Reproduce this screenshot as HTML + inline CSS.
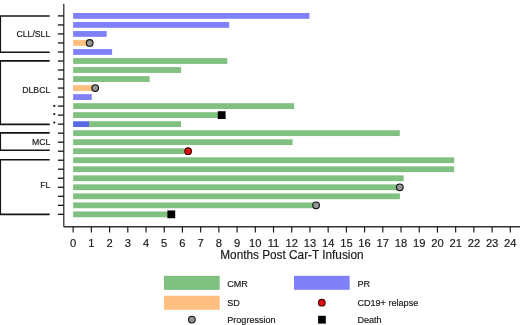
<!DOCTYPE html>
<html><head><meta charset="utf-8"><style>
html,body{margin:0;padding:0;background:#fff;}
svg{display:block;will-change:transform;}
body,svg text{font-family:"Liberation Sans",sans-serif;}
</style></head><body>
<svg width="520" height="325" viewBox="0 0 520 325">
<rect width="520" height="325" fill="#fff"/>
<rect x="73.15" y="13.00" width="236.25" height="5.8" fill="#8080f8"/>
<rect x="73.15" y="22.02" width="156.05" height="5.8" fill="#8080f8"/>
<rect x="73.15" y="31.04" width="33.55" height="5.8" fill="#8080f8"/>
<rect x="73.15" y="40.06" width="16.55" height="5.8" fill="#ffbf80"/>
<rect x="73.15" y="49.08" width="38.95" height="5.8" fill="#8080f8"/>
<rect x="73.15" y="58.10" width="154.15" height="5.8" fill="#80c080"/>
<rect x="73.15" y="67.12" width="107.95" height="5.8" fill="#80c080"/>
<rect x="73.15" y="76.14" width="76.55" height="5.8" fill="#80c080"/>
<rect x="73.15" y="85.16" width="22.05" height="5.8" fill="#ffbf80"/>
<rect x="73.15" y="94.18" width="18.65" height="5.8" fill="#8080f8"/>
<rect x="73.15" y="103.20" width="221.05" height="5.8" fill="#80c080"/>
<rect x="73.15" y="112.22" width="148.55" height="5.8" fill="#80c080"/>
<rect x="73.15" y="121.24" width="15.85" height="5.8" fill="#5868e0"/>
<rect x="89.00" y="121.24" width="92.00" height="5.8" fill="#80c080"/>
<rect x="73.15" y="130.26" width="326.65" height="5.8" fill="#80c080"/>
<rect x="73.15" y="139.28" width="219.45" height="5.8" fill="#80c080"/>
<rect x="73.15" y="148.30" width="111.45" height="5.8" fill="#80c080"/>
<rect x="73.15" y="157.32" width="381.05" height="5.8" fill="#80c080"/>
<rect x="73.15" y="166.34" width="381.05" height="5.8" fill="#80c080"/>
<rect x="73.15" y="175.36" width="330.55" height="5.8" fill="#80c080"/>
<rect x="73.15" y="184.38" width="326.65" height="5.8" fill="#80c080"/>
<rect x="73.15" y="193.40" width="326.75" height="5.8" fill="#80c080"/>
<rect x="73.15" y="202.42" width="242.95" height="5.8" fill="#80c080"/>
<rect x="73.15" y="211.44" width="98.15" height="5.8" fill="#80c080"/>
<circle cx="89.7" cy="42.96" r="3.35" fill="#959595" stroke="#111" stroke-width="1.1"/>
<circle cx="95.2" cy="88.06" r="3.35" fill="#959595" stroke="#111" stroke-width="1.1"/>
<circle cx="399.8" cy="187.28" r="3.35" fill="#959595" stroke="#111" stroke-width="1.1"/>
<circle cx="316.1" cy="205.32" r="3.35" fill="#959595" stroke="#111" stroke-width="1.1"/>
<circle cx="188.1" cy="151.20" r="3.35" fill="#e01010" stroke="#400" stroke-width="1.1"/>
<rect x="217.80" y="111.22" width="7.8" height="7.8" fill="#000"/>
<rect x="167.40" y="210.44" width="7.8" height="7.8" fill="#000"/>
<path d="M63.8 3.7 V226.7" stroke="#1a1a1a" stroke-width="1.15" fill="none"/>
<path d="M63.8 226.7 H520" stroke="#333" stroke-width="1.5" fill="none"/>
<line x1="57.9" y1="15.90" x2="63.8" y2="15.90" stroke="#151515" stroke-width="1.3"/>
<line x1="57.9" y1="24.92" x2="63.8" y2="24.92" stroke="#151515" stroke-width="1.3"/>
<line x1="57.9" y1="33.94" x2="63.8" y2="33.94" stroke="#151515" stroke-width="1.3"/>
<line x1="57.9" y1="42.96" x2="63.8" y2="42.96" stroke="#151515" stroke-width="1.3"/>
<line x1="57.9" y1="51.98" x2="63.8" y2="51.98" stroke="#151515" stroke-width="1.3"/>
<line x1="57.9" y1="61.00" x2="63.8" y2="61.00" stroke="#151515" stroke-width="1.3"/>
<line x1="57.9" y1="70.02" x2="63.8" y2="70.02" stroke="#151515" stroke-width="1.3"/>
<line x1="57.9" y1="79.04" x2="63.8" y2="79.04" stroke="#151515" stroke-width="1.3"/>
<line x1="57.9" y1="88.06" x2="63.8" y2="88.06" stroke="#151515" stroke-width="1.3"/>
<line x1="57.9" y1="97.08" x2="63.8" y2="97.08" stroke="#151515" stroke-width="1.3"/>
<line x1="57.9" y1="106.10" x2="63.8" y2="106.10" stroke="#151515" stroke-width="1.3"/>
<line x1="57.9" y1="115.12" x2="63.8" y2="115.12" stroke="#151515" stroke-width="1.3"/>
<line x1="57.9" y1="124.14" x2="63.8" y2="124.14" stroke="#151515" stroke-width="1.3"/>
<line x1="57.9" y1="133.16" x2="63.8" y2="133.16" stroke="#151515" stroke-width="1.3"/>
<line x1="57.9" y1="142.18" x2="63.8" y2="142.18" stroke="#151515" stroke-width="1.3"/>
<line x1="57.9" y1="151.20" x2="63.8" y2="151.20" stroke="#151515" stroke-width="1.3"/>
<line x1="57.9" y1="160.22" x2="63.8" y2="160.22" stroke="#151515" stroke-width="1.3"/>
<line x1="57.9" y1="169.24" x2="63.8" y2="169.24" stroke="#151515" stroke-width="1.3"/>
<line x1="57.9" y1="178.26" x2="63.8" y2="178.26" stroke="#151515" stroke-width="1.3"/>
<line x1="57.9" y1="187.28" x2="63.8" y2="187.28" stroke="#151515" stroke-width="1.3"/>
<line x1="57.9" y1="196.30" x2="63.8" y2="196.30" stroke="#151515" stroke-width="1.3"/>
<line x1="57.9" y1="205.32" x2="63.8" y2="205.32" stroke="#151515" stroke-width="1.3"/>
<line x1="57.9" y1="214.34" x2="63.8" y2="214.34" stroke="#151515" stroke-width="1.3"/>
<circle cx="54.3" cy="105.9" r="1.15" fill="#222"/>
<circle cx="54.3" cy="114.1" r="1.15" fill="#222"/>
<circle cx="54.3" cy="122.6" r="1.15" fill="#222"/>
<line x1="73.15" y1="226.7" x2="73.15" y2="232.6" stroke="#151515" stroke-width="1.15"/>
<text transform="translate(73.15,246.50) scale(1,1.03)" font-size="11.2" text-anchor="middle" fill="#1a1a1a" stroke="#1a1a1a" stroke-width="0.18" stroke-linejoin="round">0</text>
<line x1="91.37" y1="226.7" x2="91.37" y2="232.6" stroke="#151515" stroke-width="1.15"/>
<text transform="translate(91.37,246.50) scale(1,1.03)" font-size="11.2" text-anchor="middle" fill="#1a1a1a" stroke="#1a1a1a" stroke-width="0.18" stroke-linejoin="round">1</text>
<line x1="109.58" y1="226.7" x2="109.58" y2="232.6" stroke="#151515" stroke-width="1.15"/>
<text transform="translate(109.58,246.50) scale(1,1.03)" font-size="11.2" text-anchor="middle" fill="#1a1a1a" stroke="#1a1a1a" stroke-width="0.18" stroke-linejoin="round">2</text>
<line x1="127.80" y1="226.7" x2="127.80" y2="232.6" stroke="#151515" stroke-width="1.15"/>
<text transform="translate(127.80,246.50) scale(1,1.03)" font-size="11.2" text-anchor="middle" fill="#1a1a1a" stroke="#1a1a1a" stroke-width="0.18" stroke-linejoin="round">3</text>
<line x1="146.01" y1="226.7" x2="146.01" y2="232.6" stroke="#151515" stroke-width="1.15"/>
<text transform="translate(146.01,246.50) scale(1,1.03)" font-size="11.2" text-anchor="middle" fill="#1a1a1a" stroke="#1a1a1a" stroke-width="0.18" stroke-linejoin="round">4</text>
<line x1="164.23" y1="226.7" x2="164.23" y2="232.6" stroke="#151515" stroke-width="1.15"/>
<text transform="translate(164.23,246.50) scale(1,1.03)" font-size="11.2" text-anchor="middle" fill="#1a1a1a" stroke="#1a1a1a" stroke-width="0.18" stroke-linejoin="round">5</text>
<line x1="182.44" y1="226.7" x2="182.44" y2="232.6" stroke="#151515" stroke-width="1.15"/>
<text transform="translate(182.44,246.50) scale(1,1.03)" font-size="11.2" text-anchor="middle" fill="#1a1a1a" stroke="#1a1a1a" stroke-width="0.18" stroke-linejoin="round">6</text>
<line x1="200.66" y1="226.7" x2="200.66" y2="232.6" stroke="#151515" stroke-width="1.15"/>
<text transform="translate(200.66,246.50) scale(1,1.03)" font-size="11.2" text-anchor="middle" fill="#1a1a1a" stroke="#1a1a1a" stroke-width="0.18" stroke-linejoin="round">7</text>
<line x1="218.87" y1="226.7" x2="218.87" y2="232.6" stroke="#151515" stroke-width="1.15"/>
<text transform="translate(218.87,246.50) scale(1,1.03)" font-size="11.2" text-anchor="middle" fill="#1a1a1a" stroke="#1a1a1a" stroke-width="0.18" stroke-linejoin="round">8</text>
<line x1="237.09" y1="226.7" x2="237.09" y2="232.6" stroke="#151515" stroke-width="1.15"/>
<text transform="translate(237.09,246.50) scale(1,1.03)" font-size="11.2" text-anchor="middle" fill="#1a1a1a" stroke="#1a1a1a" stroke-width="0.18" stroke-linejoin="round">9</text>
<line x1="255.30" y1="226.7" x2="255.30" y2="232.6" stroke="#151515" stroke-width="1.15"/>
<text transform="translate(255.30,246.50) scale(1,1.03)" font-size="11.2" text-anchor="middle" fill="#1a1a1a" stroke="#1a1a1a" stroke-width="0.18" stroke-linejoin="round">10</text>
<line x1="273.51" y1="226.7" x2="273.51" y2="232.6" stroke="#151515" stroke-width="1.15"/>
<text transform="translate(273.51,246.50) scale(1,1.03)" font-size="11.2" text-anchor="middle" fill="#1a1a1a" stroke="#1a1a1a" stroke-width="0.18" stroke-linejoin="round">11</text>
<line x1="291.73" y1="226.7" x2="291.73" y2="232.6" stroke="#151515" stroke-width="1.15"/>
<text transform="translate(291.73,246.50) scale(1,1.03)" font-size="11.2" text-anchor="middle" fill="#1a1a1a" stroke="#1a1a1a" stroke-width="0.18" stroke-linejoin="round">12</text>
<line x1="309.94" y1="226.7" x2="309.94" y2="232.6" stroke="#151515" stroke-width="1.15"/>
<text transform="translate(309.94,246.50) scale(1,1.03)" font-size="11.2" text-anchor="middle" fill="#1a1a1a" stroke="#1a1a1a" stroke-width="0.18" stroke-linejoin="round">13</text>
<line x1="328.16" y1="226.7" x2="328.16" y2="232.6" stroke="#151515" stroke-width="1.15"/>
<text transform="translate(328.16,246.50) scale(1,1.03)" font-size="11.2" text-anchor="middle" fill="#1a1a1a" stroke="#1a1a1a" stroke-width="0.18" stroke-linejoin="round">14</text>
<line x1="346.38" y1="226.7" x2="346.38" y2="232.6" stroke="#151515" stroke-width="1.15"/>
<text transform="translate(346.38,246.50) scale(1,1.03)" font-size="11.2" text-anchor="middle" fill="#1a1a1a" stroke="#1a1a1a" stroke-width="0.18" stroke-linejoin="round">15</text>
<line x1="364.59" y1="226.7" x2="364.59" y2="232.6" stroke="#151515" stroke-width="1.15"/>
<text transform="translate(364.59,246.50) scale(1,1.03)" font-size="11.2" text-anchor="middle" fill="#1a1a1a" stroke="#1a1a1a" stroke-width="0.18" stroke-linejoin="round">16</text>
<line x1="382.80" y1="226.7" x2="382.80" y2="232.6" stroke="#151515" stroke-width="1.15"/>
<text transform="translate(382.80,246.50) scale(1,1.03)" font-size="11.2" text-anchor="middle" fill="#1a1a1a" stroke="#1a1a1a" stroke-width="0.18" stroke-linejoin="round">17</text>
<line x1="401.02" y1="226.7" x2="401.02" y2="232.6" stroke="#151515" stroke-width="1.15"/>
<text transform="translate(401.02,246.50) scale(1,1.03)" font-size="11.2" text-anchor="middle" fill="#1a1a1a" stroke="#1a1a1a" stroke-width="0.18" stroke-linejoin="round">18</text>
<line x1="419.24" y1="226.7" x2="419.24" y2="232.6" stroke="#151515" stroke-width="1.15"/>
<text transform="translate(419.24,246.50) scale(1,1.03)" font-size="11.2" text-anchor="middle" fill="#1a1a1a" stroke="#1a1a1a" stroke-width="0.18" stroke-linejoin="round">19</text>
<line x1="437.45" y1="226.7" x2="437.45" y2="232.6" stroke="#151515" stroke-width="1.15"/>
<text transform="translate(437.45,246.50) scale(1,1.03)" font-size="11.2" text-anchor="middle" fill="#1a1a1a" stroke="#1a1a1a" stroke-width="0.18" stroke-linejoin="round">20</text>
<line x1="455.66" y1="226.7" x2="455.66" y2="232.6" stroke="#151515" stroke-width="1.15"/>
<text transform="translate(455.66,246.50) scale(1,1.03)" font-size="11.2" text-anchor="middle" fill="#1a1a1a" stroke="#1a1a1a" stroke-width="0.18" stroke-linejoin="round">21</text>
<line x1="473.88" y1="226.7" x2="473.88" y2="232.6" stroke="#151515" stroke-width="1.15"/>
<text transform="translate(473.88,246.50) scale(1,1.03)" font-size="11.2" text-anchor="middle" fill="#1a1a1a" stroke="#1a1a1a" stroke-width="0.18" stroke-linejoin="round">22</text>
<line x1="492.10" y1="226.7" x2="492.10" y2="232.6" stroke="#151515" stroke-width="1.15"/>
<text transform="translate(492.10,246.50) scale(1,1.03)" font-size="11.2" text-anchor="middle" fill="#1a1a1a" stroke="#1a1a1a" stroke-width="0.18" stroke-linejoin="round">23</text>
<line x1="510.31" y1="226.7" x2="510.31" y2="232.6" stroke="#151515" stroke-width="1.15"/>
<text transform="translate(510.31,246.50) scale(1,1.03)" font-size="11.2" text-anchor="middle" fill="#1a1a1a" stroke="#1a1a1a" stroke-width="0.18" stroke-linejoin="round">24</text>
<text transform="translate(291.90,258.60) scale(1,1.03)" font-size="11.8" text-anchor="middle" fill="#1a1a1a" stroke="#1a1a1a" stroke-width="0.18" stroke-linejoin="round">Months Post Car-T Infusion</text>
<path d="M49.7 16.0 H0 M49.7 52.3 H0" stroke="#151515" stroke-width="1.6" fill="none"/>
<line x1="0" y1="16.0" x2="0" y2="52.3" stroke="#151515" stroke-width="2.2"/>
<path d="M49.7 60.9 H0 M49.7 124.4 H0" stroke="#151515" stroke-width="1.6" fill="none"/>
<line x1="0" y1="60.9" x2="0" y2="124.4" stroke="#151515" stroke-width="2.2"/>
<path d="M49.7 132.9 H0 M49.7 150.2 H0" stroke="#151515" stroke-width="1.6" fill="none"/>
<line x1="0" y1="132.9" x2="0" y2="150.2" stroke="#151515" stroke-width="2.2"/>
<path d="M49.7 159.7 H0 M49.7 214.4 H0" stroke="#151515" stroke-width="1.6" fill="none"/>
<line x1="0" y1="159.7" x2="0" y2="214.4" stroke="#151515" stroke-width="2.2"/>
<text transform="translate(50.30,37.20) scale(1,1.03)" font-size="8.7" text-anchor="end" fill="#1a1a1a" stroke="#1a1a1a" stroke-width="0.18" stroke-linejoin="round">CLL/SLL</text>
<text transform="translate(50.30,93.30) scale(1,1.03)" font-size="8.7" text-anchor="end" fill="#1a1a1a" stroke="#1a1a1a" stroke-width="0.18" stroke-linejoin="round">DLBCL</text>
<text transform="translate(50.30,144.60) scale(1,1.03)" font-size="8.7" text-anchor="end" fill="#1a1a1a" stroke="#1a1a1a" stroke-width="0.18" stroke-linejoin="round">MCL</text>
<text transform="translate(50.30,188.10) scale(1,1.03)" font-size="8.7" text-anchor="end" fill="#1a1a1a" stroke="#1a1a1a" stroke-width="0.18" stroke-linejoin="round">FL</text>
<rect x="164" y="275.8" width="55.7" height="14.1" fill="#80c080"/>
<rect x="164" y="295.7" width="55.7" height="14.1" fill="#ffbf80"/>
<rect x="294" y="275.8" width="55.6" height="14" fill="#8080f8"/>
<circle cx="191.9" cy="319.6" r="3.35" fill="#959595" stroke="#111" stroke-width="1.1"/>
<circle cx="321.8" cy="302.7" r="3.35" fill="#e01010" stroke="#400" stroke-width="1.1"/>
<rect x="318.1" y="315.8" width="7.7" height="7.8" fill="#000"/>
<text transform="translate(227.20,286.80) scale(1,1.03)" font-size="9.1" fill="#1a1a1a" stroke="#1a1a1a" stroke-width="0.18" stroke-linejoin="round">CMR</text>
<text transform="translate(227.20,306.20) scale(1,1.03)" font-size="9.1" fill="#1a1a1a" stroke="#1a1a1a" stroke-width="0.18" stroke-linejoin="round">SD</text>
<text transform="translate(227.20,322.90) scale(1,1.03)" font-size="9.1" fill="#1a1a1a" stroke="#1a1a1a" stroke-width="0.18" stroke-linejoin="round">Progression</text>
<text transform="translate(357.40,286.80) scale(1,1.03)" font-size="9.1" fill="#1a1a1a" stroke="#1a1a1a" stroke-width="0.18" stroke-linejoin="round">PR</text>
<text transform="translate(357.40,306.20) scale(1,1.03)" font-size="9.1" fill="#1a1a1a" stroke="#1a1a1a" stroke-width="0.18" stroke-linejoin="round">CD19+ relapse</text>
<text transform="translate(357.40,323.00) scale(1,1.03)" font-size="9.1" fill="#1a1a1a" stroke="#1a1a1a" stroke-width="0.18" stroke-linejoin="round">Death</text>
</svg>
</body></html>
